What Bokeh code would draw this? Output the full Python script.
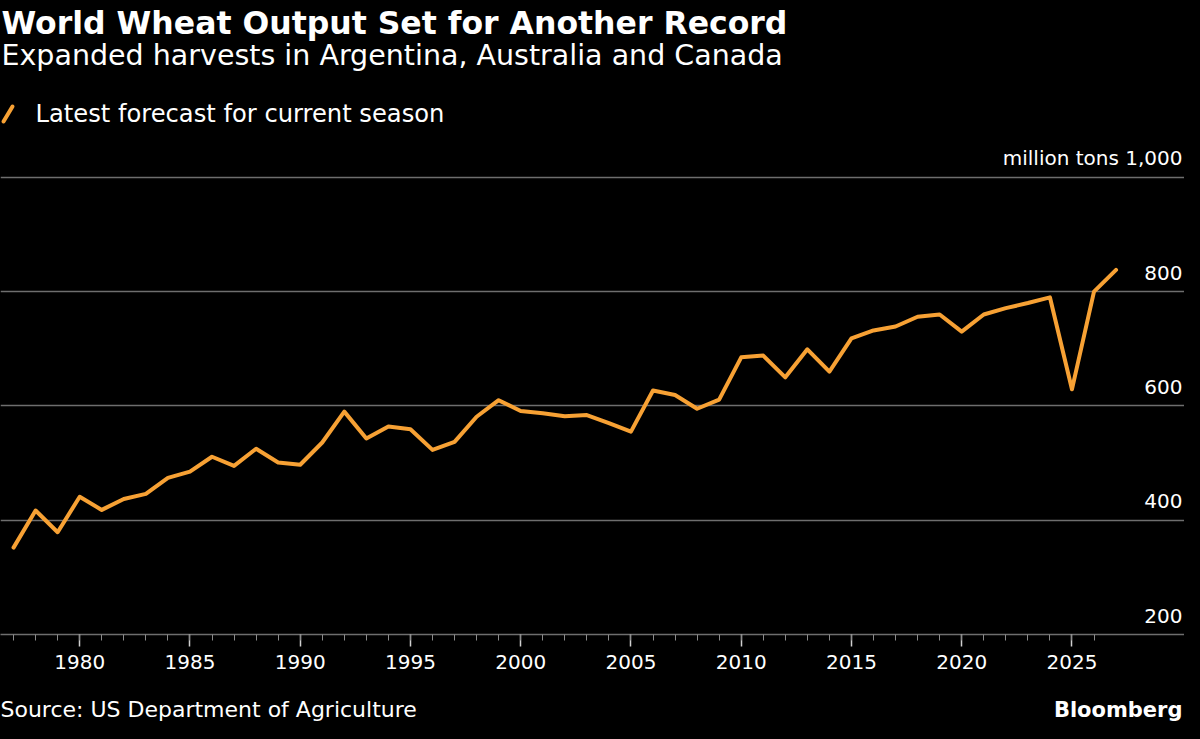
from bokeh.plotting import figure
from bokeh.layouts import column
from bokeh.models import FixedTicker, Range1d, ColumnDataSource
from bokeh.core.properties import value
from bokeh.embed import file_html
from bokeh.resources import INLINE

# ---- data ----
years = list(range(1977, 2028))
output = [352, 417, 379, 441, 418, 437, 446, 474, 485, 511,
          495, 525, 501, 497, 536, 590, 543, 564, 559, 523,
          537, 581, 610, 591, 587, 582, 584, 570, 555, 627,
          619, 595, 611, 685, 688, 650, 699, 660, 718, 732,
          739, 756, 760, 730, 760, 771, 780, 790, 629, 800,
          838]
x_major_ticks = [1980, 1985, 1990, 1995, 2000, 2005, 2010, 2015, 2020, 2025]
x_minor_ticks = list(range(1977, 2027))
y_ticks = [200, 400, 600, 800, 1000]
y_tick_labels = ["200", "400", "600", "800", "million tons 1,000"]

title = "World Wheat Output Set for Another Record"
subtitle = "Expanded harvests in Argentina, Australia and Canada"
legend_label = "Latest forecast for current season"
source_text = "Source: US Department of Agriculture"
brand = "Bloomberg"

# ---- style / layout ----
FONT = "DejaVu Sans"
ORANGE = "#f7a134"
GRID = "#6e6e6e"
W = 1184
HEAD_H = 140
FRAME_BOTTOM = 634          # page y of the 200 gridline
AX_H = 55
FOOT_H = 723 - FRAME_BOTTOM - AX_H
PX_PER_UNIT = 114.3 / 200   # vertical scale of the chart
Y_MIN = 200
Y_MAX = Y_MIN + (FRAME_BOTTOM - HEAD_H) / PX_PER_UNIT


def mid(baseline, size):
    # vertical centre of a DejaVu text box whose baseline sits at `baseline`
    return baseline - 0.346 * size


def text_panel(h):
    f = figure(width=W, height=h, output_backend="svg", toolbar_location=None,
               x_range=Range1d(0, W), y_range=Range1d(h, 0),
               x_axis_location=None, y_axis_location=None,
               min_border=0, background_fill_color="black",
               border_fill_color="black", outline_line_color=None)
    f.grid.visible = False
    return f


# ---- header: title, subtitle, legend ----
head = text_panel(HEAD_H)
head.text(x=[1], y=[mid(33, 31.5)], text=[title], text_font=value(FONT),
          text_font_size="31.5px", text_font_style="bold", text_color="white",
          text_baseline="middle")
head.text(x=[1], y=[mid(65, 28.5)], text=[subtitle], text_font=value(FONT),
          text_font_size="28.5px", text_color="white", text_baseline="middle")
head.segment(x0=[3], y0=[121], x1=[12], y1=[106], line_color=ORANGE,
             line_width=4, line_cap="round")
head.text(x=[35], y=[mid(122, 24.2)], text=[legend_label], text_font=value(FONT),
          text_font_size="24.2px", text_color="white", text_baseline="middle")

# ---- main chart ----
x0 = 1980 - 79.2 / 22.05
x1 = 1980 + (W - 79.2) / 22.05
p = figure(width=W, height=FRAME_BOTTOM - HEAD_H + AX_H, output_backend="svg",
           toolbar_location=None,
           x_range=Range1d(x0, x1), y_range=Range1d(Y_MIN, Y_MAX),
           min_border_left=0, min_border_right=0,
           min_border_top=0, min_border_bottom=AX_H,
           background_fill_color="black", border_fill_color="black",
           outline_line_color=None)

p.yaxis.visible = False
p.xgrid.visible = False
p.ygrid.ticker = FixedTicker(ticks=y_ticks)
p.ygrid.grid_line_color = GRID
p.ygrid.grid_line_width = 1.5

ax = p.xaxis[0]
ax.ticker = FixedTicker(ticks=x_major_ticks, minor_ticks=x_minor_ticks)
ax.axis_line_color = GRID
ax.axis_line_width = 1.5
ax.major_tick_line_color = "#d0d0d0"
ax.major_tick_line_width = 1.5
ax.minor_tick_line_color = "#8a8a8a"
ax.minor_tick_line_width = 1
ax.major_tick_in = 0
ax.major_tick_out = 12
ax.minor_tick_in = 0
ax.minor_tick_out = 6
ax.major_label_text_color = "white"
ax.major_label_text_font = FONT
ax.major_label_text_font_size = "20px"
ax.major_label_standoff = 8

src = ColumnDataSource(dict(x=years, y=output))
p.line("x", "y", source=src, line_color=ORANGE, line_width=4,
       line_join="round", line_cap="round")

ysrc = ColumnDataSource(dict(x=[x1] * len(y_ticks), y=y_ticks, t=y_tick_labels))
p.text("x", "y", text="t", source=ysrc, text_align="right", text_baseline="middle",
       x_offset=-2, y_offset=-19, text_color="white",
       text_font=value(FONT), text_font_size="20px")

# ---- footer ----
foot = text_panel(FOOT_H)
foot_base = FOOT_H - 6
foot.text(x=[0], y=[mid(foot_base, 22)], text=[source_text], text_font=value(FONT),
          text_font_size="22px", text_color="white", text_baseline="middle")
foot.text(x=[W - 2], y=[mid(foot_base, 21)], text=[brand], text_font=value(FONT),
          text_font_size="21px", text_font_style="bold", text_color="white",
          text_baseline="middle", text_align="right")

layout = column(head, p, foot, spacing=0)
html = file_html(layout, INLINE)
html = html.replace("</head>", "<style>html, body { background: #000; }</style></head>", 1)
open("out.html", "w").write(html)
